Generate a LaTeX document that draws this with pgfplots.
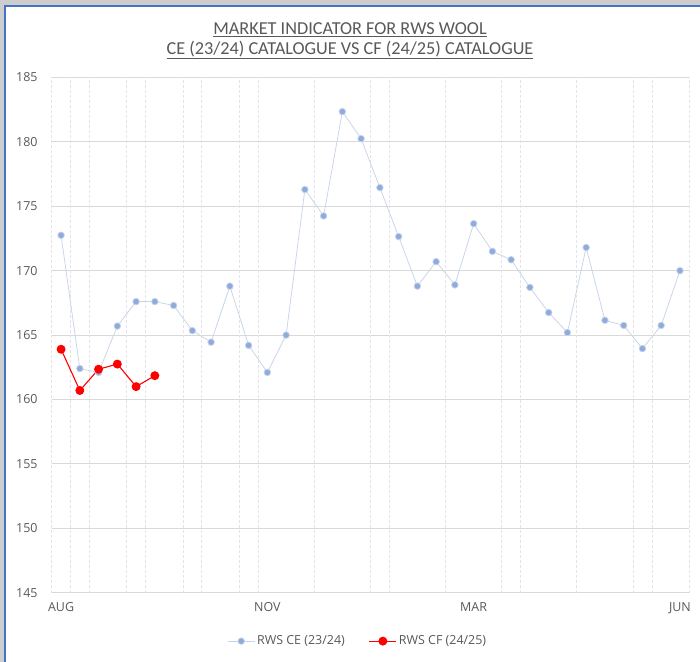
\documentclass[border=0pt]{standalone}
\usepackage{fontspec}
\setmainfont{Open Sans}
\newfontfamily\titlefont{Carlito}
\usepackage{pgfplots}
\pgfplotsset{compat=1.18}
\definecolor{bgtex}{RGB}{205,205,205}
\definecolor{frameblue}{RGB}{68,114,196}
\definecolor{txtgray}{RGB}{89,89,89}
\definecolor{hgrid}{RGB}{217,217,217}
\definecolor{vgrid}{RGB}{226,228,234}
\definecolor{cemark}{RGB}{143,170,220}
\definecolor{celine}{RGB}{200,212,232}
\definecolor{cfred}{RGB}{255,0,0}
\begin{document}
\begin{tikzpicture}[x=1bp,y=1bp]
\useasboundingbox (0,0) rectangle (700,662);
\fill[bgtex] (0,0) rectangle (700,662);
\fill[white] (5,-5) rectangle (705,656);
\draw[frameblue, line width=1.5bp] (5,-5) -- (5,656) -- (705,656);
\node[font=\titlefont\fontsize{18.3}{20}\selectfont, text=txtgray, align=center] at (350,621)
  {\underline{MARKET INDICATOR FOR RWS WOOL}\\[0bp]\underline{CE (23/24) CATALOGUE VS CF (24/25) CATALOGUE}};
\begin{axis}[
  at={(51.7bp,69.3bp)}, anchor=south west,
  scale only axis, width=637.6bp, height=515.2bp,
  xmin=-0.5, xmax=33.5, ymin=145, ymax=185,
  axis line style={draw=none},
  xtick={0,11,22,33}, xticklabels={AUG,NOV,MAR,JUN},
  ytick={145,150,...,185},
  ymajorgrids, major grid style={hgrid, line width=1bp},
  tick style={draw=none},
  extra x ticks={-0.5,0.5,1.5,3.5,4.5,6.5,7.5,9.5,10.5,13.5,16.5,17.5,20.5,23.5,24.5,27.5,30.5,31.5,33.5},
  extra x tick labels={},
  extra x tick style={grid=major, major grid style={vgrid, dash pattern=on 3bp off 2bp, line width=0.6bp}, tick style={draw=none}},
  ticklabel style={font=\fontsize{12.5}{14}\selectfont, text=txtgray},
  /pgf/number format/assume math mode=true,
  yticklabel style={inner xsep=0pt, xshift=-14bp},
  xticklabel style={yshift=-6bp},
  legend columns=2,
  legend style={at={(0.48,-0.094)}, anchor=center, draw=none, fill=none,
    font=\fontsize{12.5}{14}\selectfont, text=txtgray,
    /tikz/every even column/.append style={column sep=22bp}},
  legend image code/.code={\draw[mark repeat=2, mark phase=2, #1] plot coordinates {(0bp,0bp) (13.5bp,0bp) (27bp,0bp)};},
  clip=false,
]
\addplot[celine, line width=0.75bp, mark=*, mark size=3.3bp, mark options={draw=none, fill=cemark}]
coordinates {
(0,172.75) (1,162.4) (2,162.1) (3,165.7) (4,167.6) (5,167.6) (6,167.3) (7,165.35)
(8,164.45) (9,168.8) (10,164.2) (11,162.1) (12,165.0) (13,176.3) (14,174.25) (15,182.35)
(16,180.25) (17,176.45) (18,172.65) (19,168.8) (20,170.7) (21,168.9) (22,173.65) (23,171.5)
(24,170.85) (25,168.7) (26,166.75) (27,165.2) (28,171.8) (29,166.15) (30,165.75) (31,163.95)
(32,165.75) (33,170.0)
};
\addlegendentry{RWS CE (23/24)}
\addplot[color=cfred, line width=1.1bp, mark=*, mark size=3.9bp, mark options={draw=none, fill=cfred}]
coordinates {
(0,163.9) (1,160.7) (2,162.35) (3,162.75) (4,161.0) (5,161.85)
};
\addlegendentry{RWS CF (24/25)}
\end{axis}
\end{tikzpicture}
\end{document}
